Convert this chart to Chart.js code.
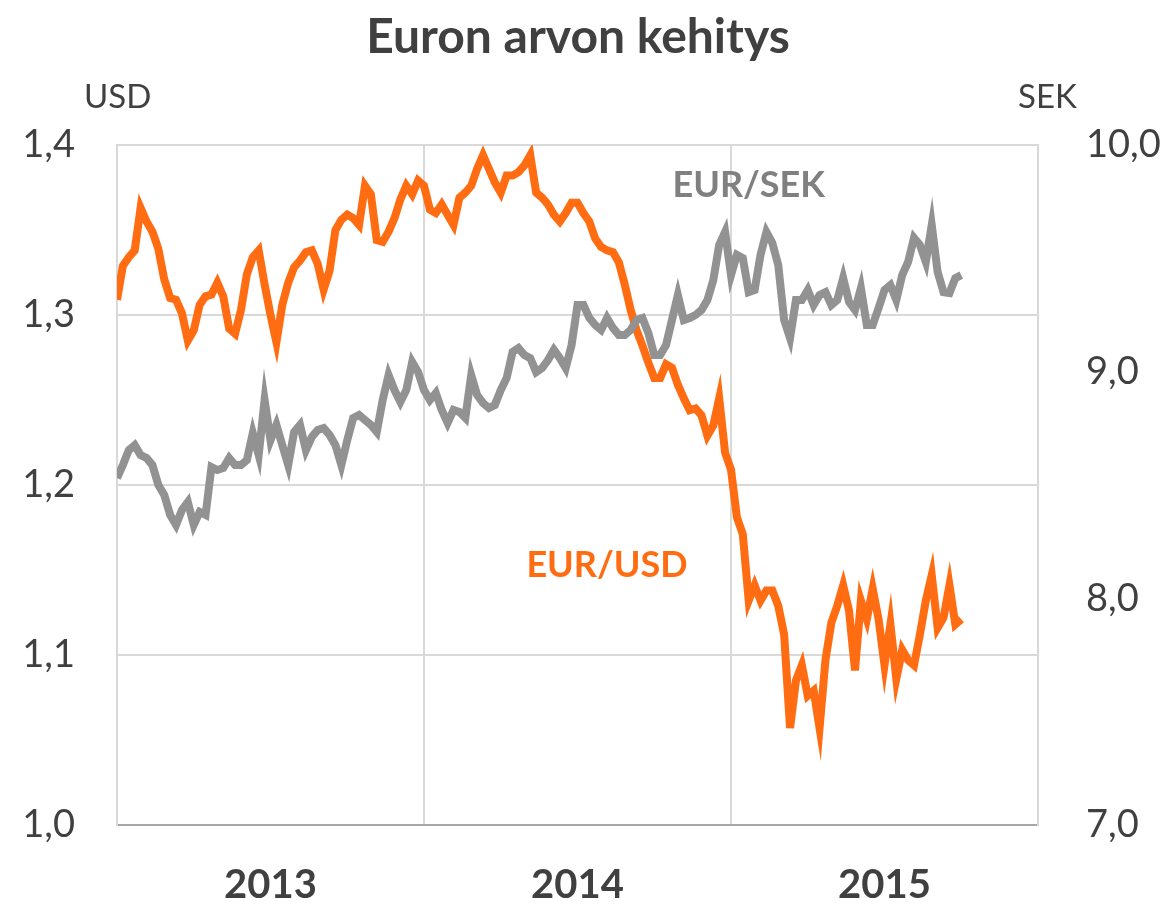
<!DOCTYPE html>
<html>
<head>
<meta charset="utf-8">
<script src="https://cdn.jsdelivr.net/npm/chart.js@4/dist/chart.umd.min.js"></script>
<style>
  html, body { margin: 0; padding: 0; background: #fff; }
  #wrap { width: 1171px; height: 908px; }
</style>
</head>
<body>
<div id="wrap"><canvas id="euroCanvas" width="1171" height="908"></canvas></div>
<script>
// weekly values, first week of 2013 onwards
const years = ["2013", "2014", "2015"];
const usdTicks = [1.0, 1.1, 1.2, 1.3, 1.4];
const sekTicks = [7, 8, 9, 10];

const eurUsd = [
  1.309, 1.329, 1.334, 1.338, 1.363, 1.355, 1.349, 1.339, 1.321, 1.310,
  1.309, 1.301, 1.285, 1.291, 1.306, 1.311, 1.312, 1.319, 1.311, 1.292,
  1.289, 1.303, 1.324, 1.334, 1.338, 1.318, 1.300, 1.284, 1.306, 1.319,
  1.328, 1.332, 1.337, 1.338, 1.330, 1.315, 1.326, 1.350, 1.356, 1.359,
  1.357, 1.353, 1.376, 1.371, 1.344, 1.343, 1.349, 1.357, 1.368, 1.376,
  1.371, 1.379, 1.376, 1.362, 1.360, 1.365, 1.359, 1.353, 1.369, 1.372,
  1.376, 1.386, 1.394, 1.386, 1.378, 1.372, 1.382, 1.382, 1.384, 1.388,
  1.394, 1.372, 1.369, 1.365, 1.359, 1.355, 1.360, 1.366, 1.366, 1.360,
  1.355, 1.345, 1.340, 1.338, 1.337, 1.331, 1.318, 1.303, 1.291, 1.282,
  1.272, 1.263, 1.263, 1.271, 1.269, 1.259, 1.251, 1.244, 1.245, 1.241,
  1.229, 1.235, 1.251, 1.219, 1.209, 1.181, 1.171, 1.132, 1.141, 1.132,
  1.138, 1.138, 1.129, 1.112, 1.057, 1.085, 1.094, 1.076, 1.079, 1.057,
  1.097, 1.119, 1.129, 1.141, 1.126, 1.091, 1.132, 1.121, 1.139, 1.121,
  1.094, 1.118, 1.086, 1.103, 1.097, 1.094, 1.112, 1.132, 1.147, 1.116,
  1.122, 1.141, 1.118, 1.121
];

const eurSek = [
  8.531, 8.588, 8.654, 8.676, 8.632, 8.619, 8.588, 8.500, 8.456, 8.368,
  8.324, 8.390, 8.425, 8.324, 8.381, 8.368, 8.579, 8.566, 8.575, 8.619,
  8.588, 8.588, 8.610, 8.729, 8.632, 8.875, 8.698, 8.765, 8.676, 8.588,
  8.734, 8.765, 8.654, 8.712, 8.743, 8.751, 8.721, 8.676, 8.588, 8.698,
  8.796, 8.809, 8.787, 8.765, 8.734, 8.875, 8.985, 8.919, 8.866, 8.919,
  9.043, 8.998, 8.919, 8.875, 8.906, 8.831, 8.774, 8.831, 8.822, 8.796,
  8.985, 8.897, 8.862, 8.840, 8.853, 8.919, 8.972, 9.087, 9.104, 9.073,
  9.060, 8.998, 9.016, 9.051, 9.096, 9.060, 9.016, 9.118, 9.294, 9.294,
  9.237, 9.206, 9.184, 9.237, 9.193, 9.162, 9.162, 9.184, 9.228, 9.237,
  9.171, 9.073, 9.073, 9.118, 9.228, 9.338, 9.228, 9.237, 9.250, 9.272,
  9.316, 9.404, 9.559, 9.616, 9.426, 9.515, 9.501, 9.351, 9.360, 9.515,
  9.616, 9.568, 9.471, 9.228, 9.148, 9.316, 9.316, 9.360, 9.294, 9.338,
  9.351, 9.294, 9.316, 9.413, 9.307, 9.272, 9.369, 9.206, 9.206, 9.281,
  9.360, 9.382, 9.316, 9.426, 9.484, 9.590, 9.559, 9.484, 9.647, 9.440,
  9.351, 9.347, 9.413, 9.426
];

const FONT = "Lato, 'Open Sans', sans-serif";
const TEXT = "#404040";
const ORANGE = "#ff6c12";
const GREY = "#929292";

// title, axis units and series names
const textPlugin = {
  id: "texts",
  afterDraw(chart) {
    const c = chart.ctx;
    const x = chart.scales.x, yU = chart.scales.yUsd;
    c.save();
    c.textBaseline = "middle";
    c.textAlign = "center";
    c.fillStyle = TEXT;
    c.font = "bold 48px " + FONT;
    c.fillText("Euron arvon kehitys", 578, 38);
    c.font = "33px " + FONT;
    c.textAlign = "left";
    c.fillText("USD", 84, 97);
    c.fillText("SEK", 1018, 97);
    c.textAlign = "center";
    c.font = "bold 36px " + FONT;
    c.fillStyle = "#808080";
    c.fillText("EUR/SEK", x.getPixelForValue(107), yU.getPixelForValue(1.376));
    c.fillStyle = ORANGE;
    c.fillText("EUR/USD", x.getPixelForValue(83), yU.getPixelForValue(1.153));
    c.restore();
  }
};

const ctx = document.getElementById("euroCanvas");

new Chart(ctx, {
  type: "line",
  data: {
    datasets: [
      {
        label: "EUR/SEK",
        data: eurSek.map((v, i) => ({ x: i, y: v })),
        borderColor: GREY,
        borderWidth: 8,
        pointRadius: 0,
        yAxisID: "ySek"
      },
      {
        label: "EUR/USD",
        data: eurUsd.map((v, i) => ({ x: i, y: v })),
        borderColor: ORANGE,
        borderWidth: 8,
        pointRadius: 0,
        yAxisID: "yUsd"
      }
    ]
  },
  options: {
    responsive: false,
    animation: false,
    layout: { padding: { top: 145, left: 0, right: 0, bottom: 0 } },
    plugins: {
      legend: { display: false },
      title: { display: false },
      tooltip: { enabled: false }
    },
    scales: {
      x: {
        type: "linear",
        min: 0,
        max: 156,
        afterBuildTicks: (s) => {
          s.ticks = [0, 26, 52, 78, 104, 130, 156].map(v => ({ value: v }));
        },
        afterFit: (s) => { s.height = 83; },
        grid: {
          color: (c) => (c.tick && c.tick.value % 52 === 0) ? "#d9d9d9" : "rgba(0,0,0,0)",
          lineWidth: 2,
          drawTicks: false
        },
        border: { color: "#a6a6a6", width: 2 },
        ticks: {
          padding: 36,
          maxRotation: 0,
          autoSkip: false,
          color: TEXT,
          font: { family: FONT, size: 40, weight: "bold" },
          callback: (v) => (v % 52 === 26) ? years[(v - 26) / 52] : ""
        }
      },
      yUsd: {
        position: "left",
        min: 1.0,
        max: 1.4,
        afterBuildTicks: (s) => { s.ticks = usdTicks.map(v => ({ value: v })); },
        afterFit: (s) => { s.width = 117; },
        grid: { color: "#d9d9d9", lineWidth: 2, drawTicks: false },
        border: { color: "#d9d9d9", width: 2 },
        ticks: {
          padding: 42,
          color: TEXT,
          font: { family: FONT, size: 38 },
          callback: (v) => v.toFixed(1).replace(".", ",")
        }
      },
      ySek: {
        position: "right",
        min: 7,
        max: 10,
        afterBuildTicks: (s) => { s.ticks = sekTicks.map(v => ({ value: v })); },
        afterFit: (s) => { s.width = 133; },
        grid: { drawOnChartArea: false, drawTicks: false },
        border: { color: "#d9d9d9", width: 2 },
        ticks: {
          padding: 48,
          color: TEXT,
          font: { family: FONT, size: 38 },
          callback: (v) => v.toFixed(1).replace(".", ",")
        }
      }
    }
  },
  plugins: [textPlugin]
});
</script>
</body>
</html>
